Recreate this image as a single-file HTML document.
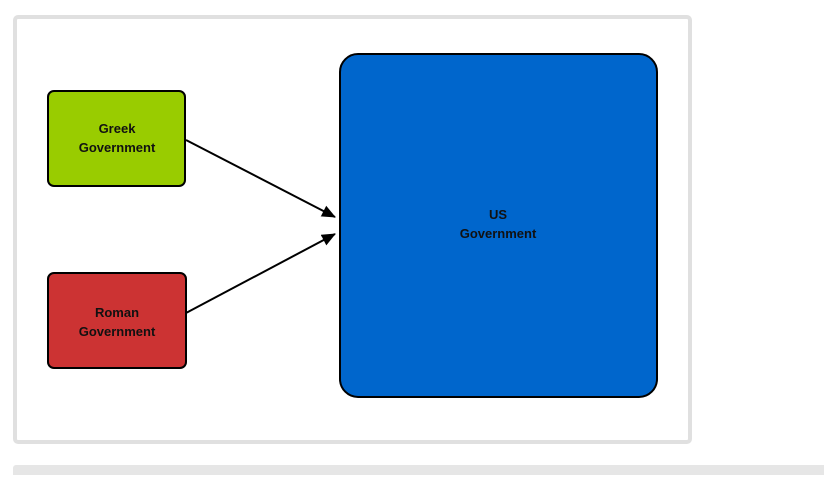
<!DOCTYPE html>
<html><head><style>
body{margin:0;width:824px;height:475px;background:#fff;overflow:hidden;font-family:"Liberation Sans",sans-serif;}
</style></head><body>
<svg width="824" height="475" xmlns="http://www.w3.org/2000/svg">
<rect x="15" y="17" width="675" height="425" rx="3" fill="#fff" stroke="#e0e0e0" stroke-width="4"/>
<rect x="13" y="465" width="820" height="20" rx="3" fill="#e6e6e6"/>
<defs><marker id="a" markerWidth="14" markerHeight="12" refX="13" refY="6" orient="auto" markerUnits="userSpaceOnUse"><path d="M0,0 L14,6 L0,12 Z" fill="#000"/></marker></defs>
<rect x="48" y="91" width="137" height="95" rx="6" fill="#99cc00" stroke="#000" stroke-width="2"/>
<rect x="48" y="273" width="138" height="95" rx="6" fill="#cc3333" stroke="#000" stroke-width="2"/>
<rect x="340" y="54" width="317" height="343" rx="18" fill="#0066cc" stroke="#000" stroke-width="2"/>
<line x1="186" y1="140" x2="335" y2="217" stroke="#000" stroke-width="2" marker-end="url(#a)"/>
<line x1="186" y1="313" x2="335" y2="234" stroke="#000" stroke-width="2" marker-end="url(#a)"/>
<g font-family="Liberation Sans, sans-serif" font-weight="bold" font-size="13" fill="#111" text-anchor="middle">
<text x="117" y="133">Greek</text><text x="117" y="152">Government</text>
<text x="117" y="317">Roman</text><text x="117" y="336">Government</text>
<text x="498" y="219">US</text><text x="498" y="238">Government</text>
</g>
</svg>
</body></html>
